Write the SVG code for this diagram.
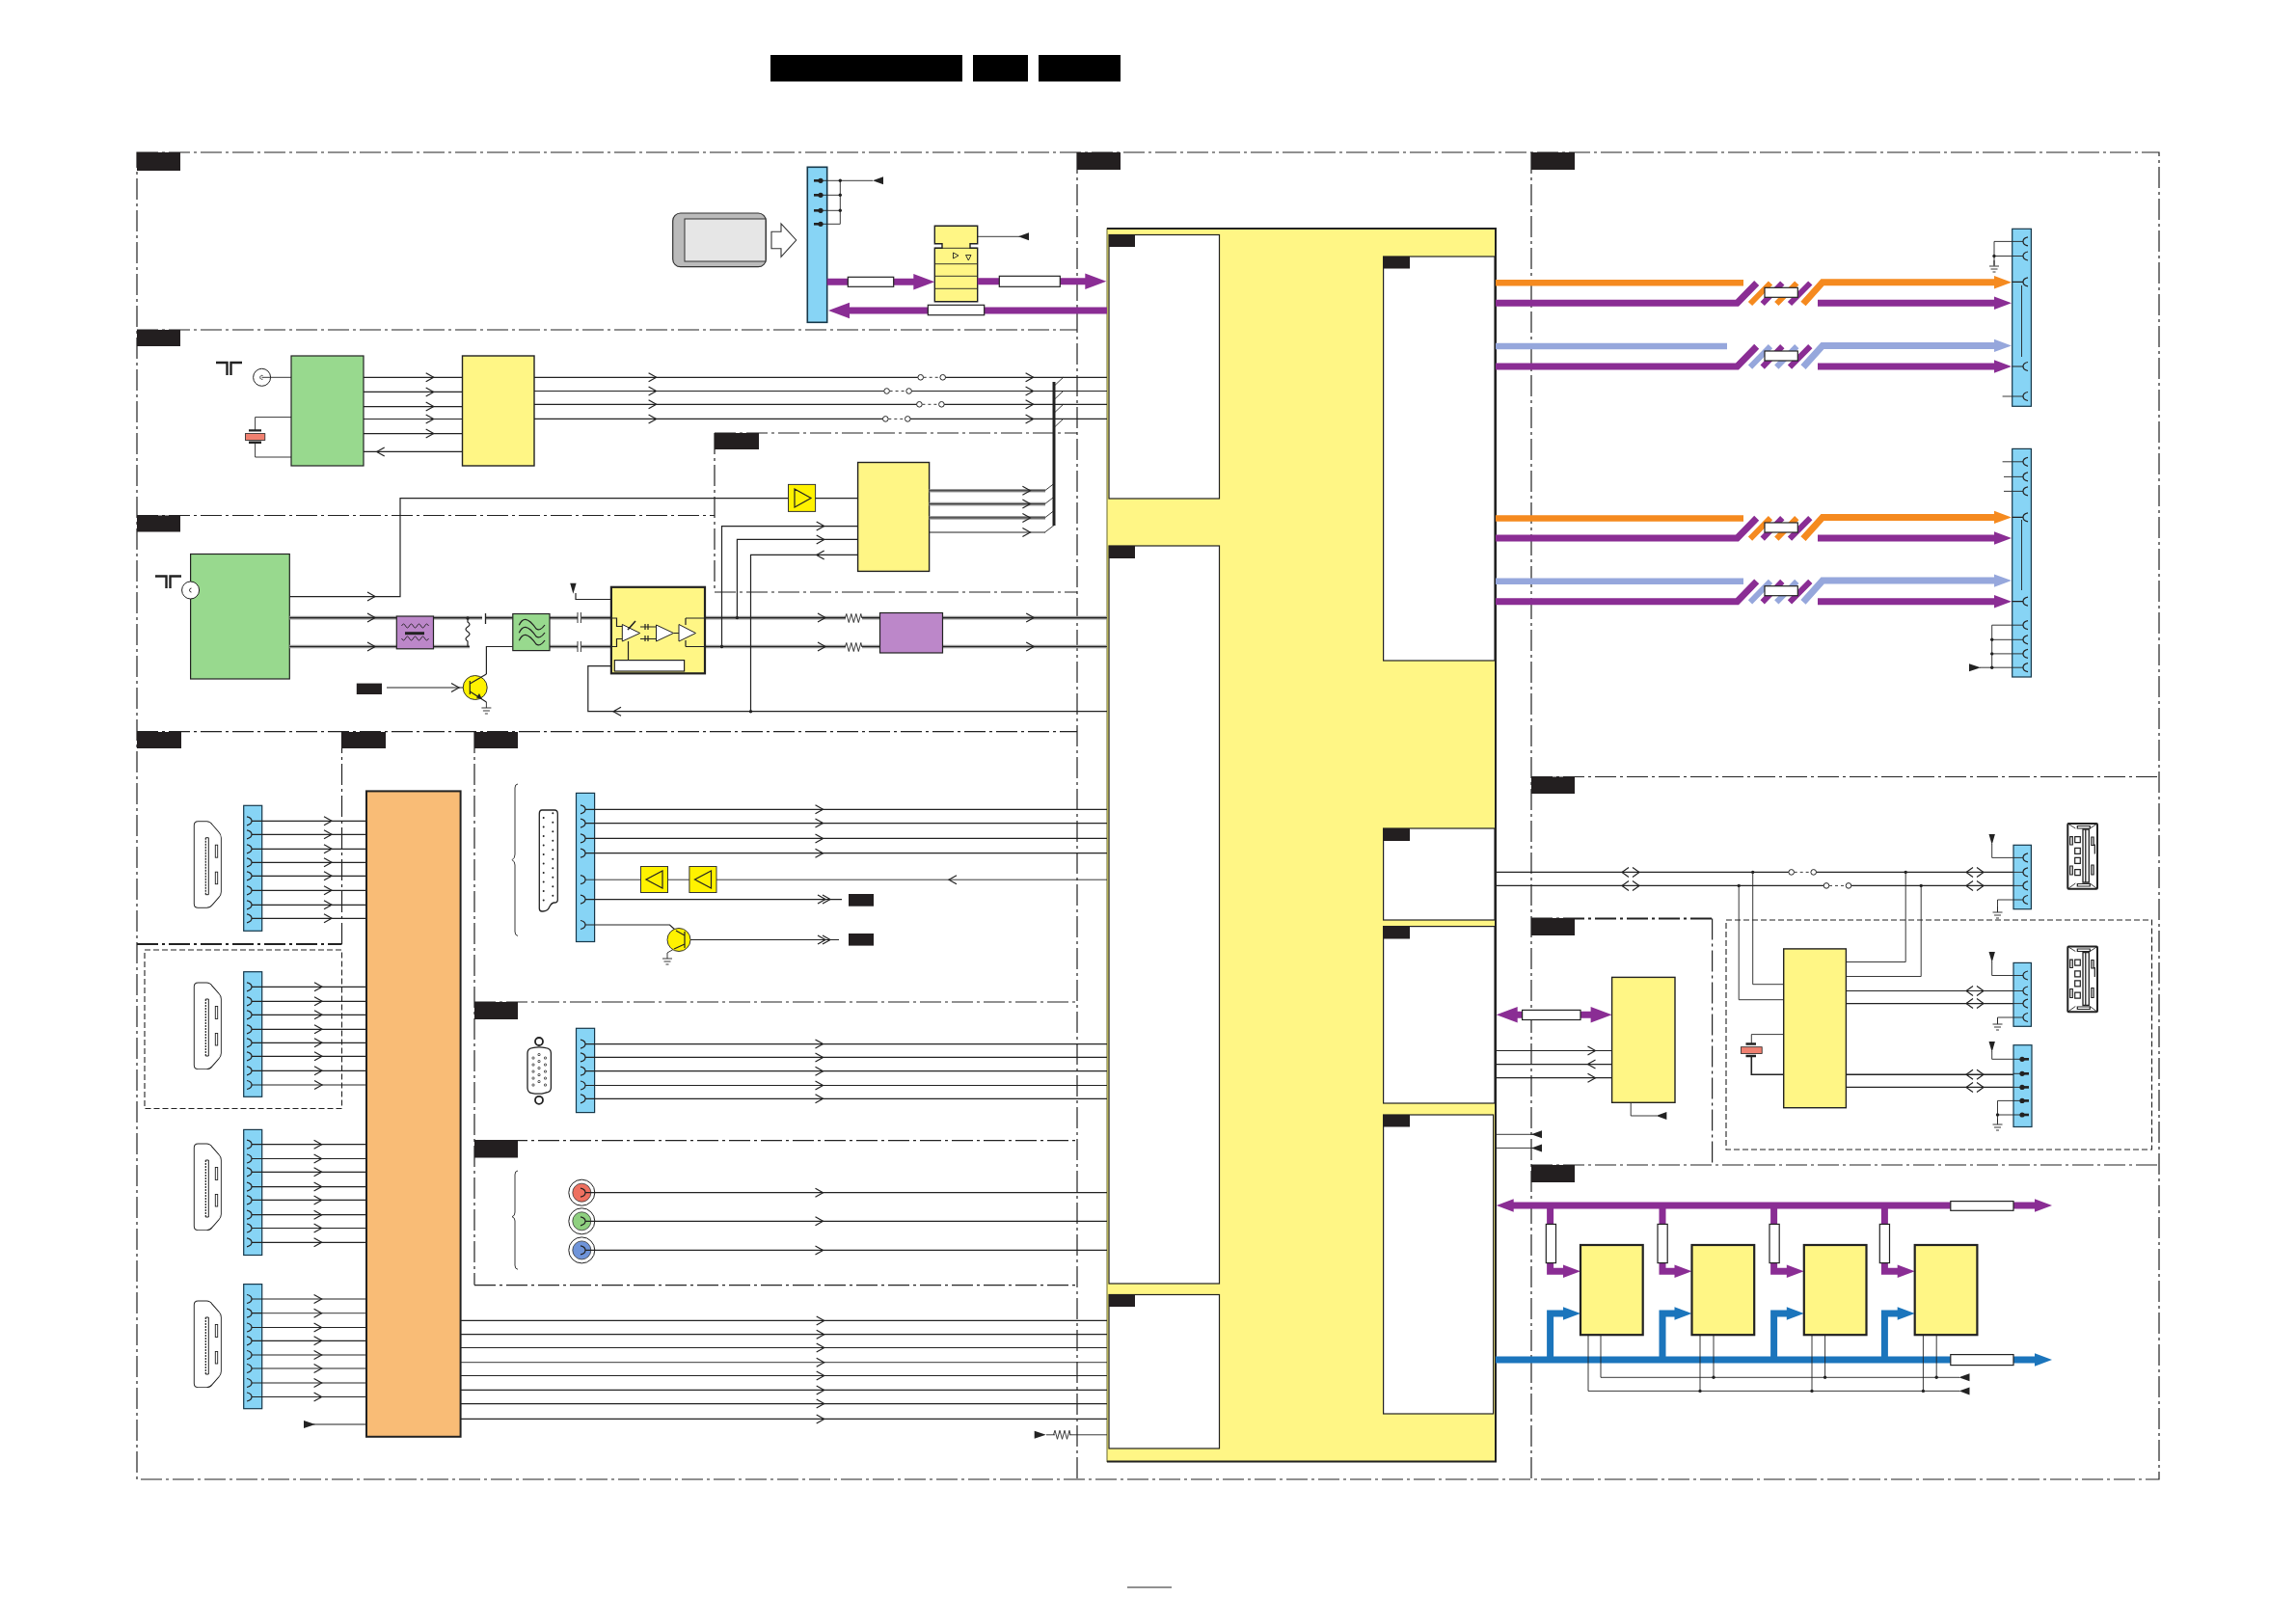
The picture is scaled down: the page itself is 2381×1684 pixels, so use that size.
<svg xmlns="http://www.w3.org/2000/svg" width="2381" height="1684" viewBox="0 0 2381 1684">
<style>
.f{fill:none;stroke:#222;stroke-width:1.2;stroke-dasharray:22 4 3 4}
.d{fill:none;stroke:#222;stroke-width:1.1;stroke-dasharray:6 3}
.l{fill:none;stroke:#222;stroke-width:1.2}
.t{fill:none;stroke:#222;stroke-width:.9}
.g{fill:none;stroke:#9a9a9a;stroke-width:3.6}
.m{fill:none;stroke:#222;stroke-width:1.2}
.k{fill:#231f20}
.y{fill:#fff685;stroke:#222;stroke-width:1.4}
.yb{fill:#fff685;stroke:#222;stroke-width:2.2}
.b{fill:#87d4f5;stroke:#17384a;stroke-width:1.2}
.w{fill:#fff;stroke:#222;stroke-width:1.2}
.s{fill:#fff;stroke:#222;stroke-width:1}
.p{fill:none;stroke:#8a2d94;stroke-width:7}
.u{fill:none;stroke:#1b75bc;stroke-width:7}
.a{fill:#fff200;stroke:#333;stroke-width:1}
.v{fill:#bc87c9;stroke:#222;stroke-width:1.2}
.e{fill:#98d98e;stroke:#222;stroke-width:1.2}
.c{fill:#f08070;stroke:#222;stroke-width:.8}
.n{fill:#222}
</style>
<defs>
<path id="cr" class="m" d="M-4 -4.5L4 0L-4 4.5"/>
<path id="cl" class="m" d="M4 -4.5L-4 0L4 4.5"/>
<path id="dr" class="m" d="M-7 -4.5L1 0L-7 4.5M-2 -4.5L6 0L-2 4.5"/>
<path id="dm" class="m" d="M-2 -5L-9 0L-2 5M2 -5L9 0L2 5"/>
<path id="pl" class="m" d="M-5 -4.5Q0 -3.5 0 0Q0 3.5 -5 4.5"/>
<path id="pr" class="m" d="M5 -4.5Q0 -3.5 0 0Q0 3.5 5 4.5"/>
<g id="ps"><path d="M-7 0H0" stroke="#222" stroke-width="2.6"/><circle r="2.6" class="n"/></g>
<circle id="dot" r="1.7" class="n"/>
<path id="tl" class="n" d="M0 0L11 -4V4Z"/>
<path id="tr" class="n" d="M0 -4L12 0L0 4Z"/>
<path id="td" class="n" d="M-3.2 0H3.2L0 11Z"/>
<path id="gnd" class="t" d="M0 0V6M-5 6H5M-3.5 9H3.5M-1.5 12H1.5"/>
<path id="hs" d="M0 0L-18 -6.7V6.7Z"/>
<path id="hb" d="M0 0L-22 -8.3V8.3Z"/>
<path id="rs" class="t" d="M-9 0l1.5 -4.5l2.5 9l2.5 -9l2.500 9l2.500 -9l2.500 9l2.500 -9l1 4.500"/>
<g id="sw"><rect x="0" y="-2.500" width="23" height="5" fill="#fff"/><path class="t" stroke-dasharray="3 3" d="M3 0H21"/><circle r="2.800" class="s"/><circle cx="23" r="2.800" class="s"/></g>
<path id="hdo" d="M3 0H12Q15 0 17 3L24 11Q26 13 26 16V72Q26 75 24 77L17 85Q15 87.600 12 87.600H3Q0 87.600 0 84.600V3Q0 0 3 0Z"/>
<g id="hd"><use href="#hdo" fill="#fff" stroke="#222" stroke-width="3"/><use href="#hdo" fill="#fff" stroke="#fff" stroke-width="1.100"/><path d="M11 16H14V75H11" fill="#fff" stroke="#222"/><path d="M11 16V75" stroke="#222" stroke-width="1.200" stroke-dasharray="2 1"/><rect x="21" y="23.500" width="2.400" height="13" class="t"/><rect x="21" y="51.500" width="2.400" height="12.500" class="t"/></g>
<g id="usb"><rect x="0" y="0" width="30.700" height="67.700" rx="1" fill="#fff" stroke="#222" stroke-width="2"/><path d="M15.700 6H22V61H15.700ZM18.500 6V61" fill="#fff" stroke="#222" stroke-width="1.300"/><path class="m" d="M7.400 13.700h5.600v6h-5.600zM7.400 25.300h5.600v6h-5.600zM7.400 35.300h5.600v6h-5.600zM7.400 47.700h5.600v6h-5.600zM2.400 13.700h2.600v8.300h-2.600zM2.400 44h2.600v9h-2.600zM24.500 14h2.300v8.500h-2.300zM24.500 43h2.300v10h-2.300zM28 21.500v10M10 2.500h13v2.500h-13zM10 62.500h13v2.500h-13z"/><path class="t" d="M0 0L8 5M30.700 0L23 5M0 67.700L8 62M30.700 67.700L23 62"/></g>
<g id="pair">
<path fill="none" stroke="currentColor" stroke-width="6" d="M1815 315L1836 293.500M1842.300 315L1863.300 293.500"/>
<path fill="none" stroke="#8a2d94" stroke-width="6" d="M1827.700 315L1848.300 293.500M1856 315L1877.300 293.500"/>
<path fill="none" stroke="#8a2d94" stroke-width="7" d="M1551 314.300H1801.500L1821.700 293.500M1885 314.300H2069"/>
<use href="#hs" x="2086" y="314.300" fill="#8a2d94"/>
<path fill="none" stroke="currentColor" stroke-width="7" d="M1870 315L1890 292.700H2069"/>
<use href="#hs" x="2086" y="292.700" fill="currentColor"/>
<rect x="1830" y="298.300" width="34.300" height="10" class="w"/>
</g>
<rect id="icb" width="64.700" height="93.200" class="yb"/>
</defs>

<g id="frames">
<path class="f" d="M142 158H2239V1534H142ZM1117 158V1534M1588 158V1534M142 342H1117M142 534.500H741M741 449V614M741 449H1117M741 614H1117M142 758.600H1117M354.500 759V979M492 759V1332.600M492 1039H1117M492 1182.700H1117M492 1332.600H1117M1588 805.500H2239M1775.600 952.500V1208M1588 1208H2239"/>
<path class="f" style="stroke-width:2" d="M142 979H354.500M1588 952.500H1776"/>
<path class="d" d="M150 985H354.500V1149.500H150ZM1790 954H2231.500V1192H1790Z"/>
</g>

<g id="header">
<rect x="799" y="57" width="199" height="27.500" fill="#000"/><rect x="1009" y="57" width="57" height="27.500" fill="#000"/><rect x="1077" y="57" width="85" height="27.500" fill="#000"/>
<path d="M1169 1646H1215" stroke="#222" stroke-width="1"/>
</g>

<g id="section-labels" class="k">
<rect x="142" y="158" width="45" height="19"/><rect x="1117" y="158" width="45" height="18"/><rect x="1588" y="158" width="45" height="18"/>
<rect x="142" y="342" width="45" height="17"/><rect x="142" y="534.500" width="45" height="17"/><rect x="741" y="449" width="46" height="17"/>
<rect x="142" y="759" width="46" height="17"/><rect x="354" y="759" width="46" height="17"/><rect x="492" y="759" width="45" height="17"/>
<rect x="492" y="1039" width="45" height="18"/><rect x="492" y="1182" width="45" height="18.500"/>
<rect x="1588" y="805.500" width="45" height="17.500"/><rect x="1588" y="952" width="45" height="18"/><rect x="1588" y="1208" width="45" height="18"/>
</g>

<g id="main-soc">
<rect x="1148" y="237" width="403" height="1278.600" fill="#fff685" stroke="#6b6a30" stroke-width="1"/>
<path d="M1148 237H1551V1515.600H1148" fill="none" stroke="#222" stroke-width="2"/>
<rect x="1150" y="243.500" width="114.500" height="273.500" class="w"/><rect x="1150" y="566" width="114.500" height="765" class="w"/><rect x="1150" y="1342.500" width="114.500" height="159.500" class="w"/>
<rect x="1434.600" y="266" width="115.400" height="419" class="w"/><rect x="1434.600" y="859" width="115.400" height="95" class="w"/><rect x="1434.600" y="960.600" width="115.400" height="183.400" class="w"/><rect x="1434.600" y="1156" width="114" height="310" class="w"/>
<g class="k"><rect x="1150" y="243.500" width="27" height="12.500"/><rect x="1150" y="566" width="27" height="13"/><rect x="1150" y="1342.500" width="27" height="12.500"/><rect x="1435" y="266" width="27" height="12.500"/><rect x="1435" y="859" width="27" height="13"/><rect x="1435" y="961" width="27" height="12.500"/><rect x="1435" y="1156" width="27" height="12.500"/></g>
</g>

<g id="cicam"><rect x="697.700" y="221" width="96.600" height="55.700" rx="8" fill="#bbb" stroke="#333" stroke-width="1.200"/><rect x="710" y="227" width="84" height="44" fill="#e6e6e6" stroke="#333" stroke-width="1"/>
<path d="M800 240.300H810V232L825.700 249L810 266.300V257.700H800Z" fill="#fff" stroke="#333" stroke-width="1.100"/></g>
<g id="conn-ci"><rect x="837.300" y="173.300" width="20.400" height="161" class="b" style="stroke-width:1.600"/><use href="#ps" x="851" y="187.300"/><use href="#ps" x="851" y="202.300"/><use href="#ps" x="851" y="218.300"/><use href="#ps" x="851" y="232.300"/></g>
<g id="ci-buffer"><path class="y" d="M969.300 234.300H1013.700V252.700H1006V257.300H1013.700V312.700H969.300V257.300H977V252.700H969.300Z"/><path class="t" d="M969.300 257.300H1013.700M969.300 273.700H1013.700M969.300 286.300H1013.700M969.300 299.300H1013.700M988.500 262V268L994 265ZM1001.500 264.500H1007L1004.300 270Z"/></g>

<g id="tuner1"><rect x="302" y="369" width="75" height="114" class="e"/><circle cx="271.600" cy="391.300" r="9" class="s"/><path class="t" d="M272.500 389.500A2 2 0 1 0 272.500 393.200M271.600 391.300H302"/><path d="M224 376H235.500V389M251 376H239.500V389" fill="none" stroke="#222" stroke-width="2.400"/><path class="t" d="M302 432.600H264.600V446.400M302 474H264.600V458.800"/><path d="M258 446.400H271M258 458.800H271" stroke="#222" stroke-width="2.400"/><rect x="254.400" y="449.600" width="20.400" height="6.900" class="c"/></g>
<g id="demod1"><rect x="479.500" y="369" width="74.500" height="114" class="y"/></g>
<g id="tuner2"><rect x="197.600" y="574.500" width="102.700" height="129.500" class="e"/><circle cx="197.600" cy="612" r="9" class="s"/><path class="t" d="M198.500 610A2 2 0 1 0 198.500 614"/><path d="M161 597.500H172.500V610M188 597.500H176.500V610" fill="none" stroke="#222" stroke-width="2.400"/></g>
<g id="demod2"><rect x="889.600" y="479.500" width="74" height="112.900" class="y"/></g>
<g id="buf-if"><rect x="817.500" y="502.400" width="28.100" height="28" class="a"/><path class="m" d="M824 507V526L841 516.500Z"/></g>

<g id="connectors">
<path class="l" d="M377 391.300H479.500M377 406.400H479.500M377 421.600H479.500M377 434.500H479.500M377 449.600H479.500M377 468.400H479.500M554 391.300H1148M554 405.500H1148M554 419.300H1148M554 434.400H1148"/>
<path class="t" d="M1093 400.300L1102.600 391.300M1093 414.500L1102.600 405.500M1093 428.300L1102.600 419.300M1093 443.400L1102.600 434.400M1083.500 508.800L1093 501.500M1083.500 522.600L1093 515.300M1083.500 536.900L1093 529.600M1083.500 552L1093 544.700"/>
<path d="M1093 396V545" stroke="#222" stroke-width="3"/>
<use href="#cr" x="445.700" y="391.300"/><use href="#cr" x="445.700" y="406.400"/><use href="#cr" x="445.700" y="421.600"/><use href="#cr" x="445.700" y="434.500"/><use href="#cr" x="445.700" y="449.600"/><use href="#cl" x="394.700" y="468.400"/>
<use href="#cr" x="676.600" y="391.300"/><use href="#cr" x="676.600" y="405.500"/><use href="#cr" x="676.600" y="419.300"/><use href="#cr" x="676.600" y="434.400"/>
<use href="#cr" x="1067.600" y="391.300"/><use href="#cr" x="1067.600" y="405.500"/><use href="#cr" x="1067.600" y="419.300"/><use href="#cr" x="1067.600" y="434.400"/>
<use href="#sw" x="954.700" y="391.300"/><use href="#sw" x="919.600" y="405.500"/><use href="#sw" x="953.400" y="419.300"/><use href="#sw" x="918.300" y="434.400"/>
<path class="g" d="M963.600 508.800H1084M963.600 522.600H1084M963.600 536.900H1084"/>
<path class="t" d="M963.600 508.800H1084M963.600 522.600H1084M963.600 536.900H1084"/><path class="l" d="M963.600 552H1084"/>
<use href="#cr" x="1064.400" y="508.800"/><use href="#cr" x="1064.400" y="522.600"/><use href="#cr" x="1064.400" y="536.900"/><use href="#cr" x="1064.400" y="552"/>
<path class="l" d="M300.300 618.600H415V516.700H817.500M845.600 516.700H889.600"/><use href="#cr" x="385" y="618.600"/>
<path class="g" d="M300.300 640.600H411.300M300.300 670.500H411.300M449.500 640.600H500M504 640.600H531.800M449.500 670.500H487M570 640.600H599M603 640.600H634M570 670.500H599M603 670.500H634M731 640.600H877M731 670.500H877M894 640.600H912.500M894 670.500H912.500M977.500 640.600H1148M977.500 670.500H1148"/>
<path class="l" d="M300.300 640.600H411.300M300.300 670.500H411.300M449.500 640.600H500M504 640.600H531.800M449.500 670.500H487M570 640.600H599M603 640.600H634M570 670.500H599M603 670.500H634M731 640.600H877M731 670.500H877M894 640.600H912.500M894 670.500H912.500M977.500 640.600H1148M977.500 670.500H1148"/>
<use href="#cr" x="385" y="640.600"/><use href="#cr" x="385" y="670.500"/><use href="#cr" x="852" y="640.600"/><use href="#cr" x="852" y="670.500"/><use href="#cr" x="1068.200" y="640.600"/><use href="#cr" x="1068.200" y="670.500"/>
<use href="#rs" x="885.300" y="641"/><use href="#rs" x="885.300" y="671"/>
<path class="t" d="M599 635V646M602.400 635V646M599 665V676M602.400 665V676"/>
<path d="M503.500 636V647" stroke="#222" stroke-width="1.300"/>
<path class="l" d="M485 641V645q4 2.500 0 5q-4 2.500 0 5q4 2.500 0 5q-4 2.500 0 5V670"/><use href="#dot" x="485" y="641"/>
<path class="l" d="M531.800 670.500H504.400V699M401 713H487.300"/><use href="#cr" x="472" y="713"/>
<use href="#gnd" x="504.400" y="728"/>
<path class="l" d="M597 615V621.500H634M1148 737.700H609.800V690.600H637.300M778.500 737.700V575.400H889.600M748.500 670.500V545.600H889.600M764.400 640.600V559.400H889.600"/>
<use href="#td" x="594.400" y="604.800"/>
<use href="#cl" x="640" y="737.700"/><use href="#cr" x="850.700" y="545.600"/><use href="#cr" x="850.700" y="559.400"/><use href="#cl" x="850.700" y="575.400"/>
<use href="#dot" x="778.500" y="737.700"/><use href="#dot" x="748.500" y="670.500"/><use href="#dot" x="764.400" y="640.600"/>
<path class="t" d="M851 187.300H905M851 202.300H871.300M851 218.300H871.300M851 232.300H871.300V187.300M1013.700 245.300H1058"/>
<use href="#dot" x="871.300" y="187.300"/><use href="#dot" x="871.300" y="202.300"/><use href="#dot" x="871.300" y="218.300"/><use href="#tl" x="905" y="187.300"/><use href="#tl" x="1056" y="245.300"/>
<path class="p" d="M857.700 292.300H948M1013.700 291.700H1126M1148 322H880"/>
<use href="#hb" x="969.300" y="292.300" fill="#8a2d94"/><use href="#hb" x="1147.300" y="291.700" fill="#8a2d94"/><use href="#hb" transform="translate(859 322) rotate(180)" fill="#8a2d94"/>
<path class="l" d="M261 851.300H380M261 865.300H380M261 880.300H380M261 894.300H380M261 908.300H380M261 923.300H380M261 938.300H380M261 952.300H380M261 1023.300H380M261 1038.300H380M261 1052.300H380M261 1067.300H380M261 1081.300H380M261 1095.300H380M261 1110.300H380M261 1125H380M261 1186.700H380M261 1201.500H380M261 1215.300H380M261 1230.600H380M261 1244.400H380M261 1259.700H380M261 1273.500H380M261 1288.300H380M261 1347H380M261 1376.500H380M261 1390.300H380M261 1405H380M261 1419H380M261 1434H380M261 1448.500H380M325 1477H380"/>
<path class="t" d="M261 1361.700H380"/>
<use href="#tr" x="315" y="1477"/>
<use href="#cr" x="340" y="851.300"/><use href="#cr" x="340" y="865.300"/><use href="#cr" x="340" y="880.300"/><use href="#cr" x="340" y="894.300"/><use href="#cr" x="340" y="908.300"/><use href="#cr" x="340" y="923.300"/><use href="#cr" x="340" y="938.300"/><use href="#cr" x="340" y="952.300"/>
<use href="#cr" x="330" y="1023.300"/><use href="#cr" x="330" y="1038.300"/><use href="#cr" x="330" y="1052.300"/><use href="#cr" x="330" y="1067.300"/><use href="#cr" x="330" y="1081.300"/><use href="#cr" x="330" y="1095.300"/><use href="#cr" x="330" y="1110.300"/><use href="#cr" x="330" y="1125"/>
<use href="#cr" x="329.600" y="1186.700"/><use href="#cr" x="329.600" y="1201.500"/><use href="#cr" x="329.600" y="1215.300"/><use href="#cr" x="329.600" y="1230.600"/><use href="#cr" x="329.600" y="1244.400"/><use href="#cr" x="329.600" y="1259.700"/><use href="#cr" x="329.600" y="1273.500"/><use href="#cr" x="329.600" y="1288.300"/>
<use href="#cr" x="329.600" y="1347"/><use href="#cr" x="329.600" y="1361.700"/><use href="#cr" x="329.600" y="1376.500"/><use href="#cr" x="329.600" y="1390.300"/><use href="#cr" x="329.600" y="1405"/><use href="#cr" x="329.600" y="1419"/><use href="#cr" x="329.600" y="1434"/><use href="#cr" x="329.600" y="1448.500"/>
<path class="l" d="M477.600 1369.400H1148M477.600 1383.700H1148M477.600 1397.500H1148M477.600 1426.500H1148M477.600 1441.400H1148M477.600 1455.600H1148M477.600 1471.400H1148"/><path class="t" d="M477.600 1412.700H1148M1085 1487.800H1094M1109 1487.800H1148"/>
<use href="#cr" x="850.700" y="1369.400"/><use href="#cr" x="850.700" y="1383.700"/><use href="#cr" x="850.700" y="1397.500"/><use href="#cr" x="850.700" y="1412.700"/><use href="#cr" x="850.700" y="1426.500"/><use href="#cr" x="850.700" y="1441.400"/><use href="#cr" x="850.700" y="1455.600"/><use href="#cr" x="850.700" y="1471.400"/>
<use href="#tr" x="1072.700" y="1487.800"/><use href="#rs" x="1101.500" y="1487.800"/>
<path class="l" d="M607 839.300H1148M607 853.600H1148M607 869.400H1148M607 884.700H1148M607 932.600H873M607 1082.600H1148M607 1096.400H1148M607 1110.700H1148M607 1125.500H1148M607 1139.300H1148M607 1236.700H1148M607 1266.300H1148M607 1296.400H1148M716 974.500H870"/>
<path class="t" d="M607 912.200H664.500M692.500 912.200H714.900M743 912.200H1148"/>
<path class="l" d="M607 959H694.500L701 965"/>
<use href="#cr" x="849.500" y="839.300"/><use href="#cr" x="849.500" y="853.600"/><use href="#cr" x="849.500" y="869.400"/><use href="#cr" x="849.500" y="884.700"/><use href="#cl" x="988" y="912.200"/><use href="#dr" x="855" y="932.600"/><use href="#dr" x="855" y="974.500"/>
<use href="#cr" x="849.500" y="1082.600"/><use href="#cr" x="849.500" y="1096.400"/><use href="#cr" x="849.500" y="1110.700"/><use href="#cr" x="849.500" y="1125.500"/><use href="#cr" x="849.500" y="1139.300"/>
<use href="#cr" x="849.500" y="1236.700"/><use href="#cr" x="849.500" y="1266.300"/><use href="#cr" x="849.500" y="1296.400"/>
<path class="t" d="M699 984L692 988"/><use href="#gnd" x="692" y="988"/>
<path fill="none" stroke="#f58a1f" stroke-width="6.500" d="M1551 293.200H1808M1551 537.600H1808"/>
<path fill="none" stroke="#96a7dc" stroke-width="6.500" d="M1551 358.900H1791M1551 602.700H1808"/>
<use href="#pair" color="#f58a1f"/><use href="#pair" y="65.700" color="#96a7dc"/><use href="#pair" y="243.700" color="#f58a1f"/><use href="#pair" y="309.400" color="#96a7dc"/>
<path class="t" d="M2098 250.400H2068V275M2068 265.500H2098M2076.600 411H2098M2076.600 478.800H2098M2078 494.400H2098M2078 509.400H2098M2098 648.200H2065.700V692.200H2098M2065.700 663.300H2098M2065.700 677.900H2098M2053 692.200H2066"/>
<use href="#dot" x="2068" y="265.500"/><use href="#gnd" x="2068" y="270"/><use href="#dot" x="2065.700" y="663.300"/><use href="#dot" x="2065.700" y="677.900"/><use href="#dot" x="2065.700" y="692.200"/><use href="#tr" x="2042" y="692.200"/>
<path class="l" d="M1551 904.400H2098M1551 918.400H2098M1914.400 1027.500H2098M1914.400 1040.600H2098M1914.400 1127.400H2098"/><path d="M1849.700 1114.300H1816.300V1095M1914.400 1114.300H2098" stroke="#222" stroke-width="1.600" fill="none"/>
<path class="t" d="M1817.700 904.400V1020.700H1849.700M1803.200 918.400V1036.700H1849.700M1976.200 904.400V997.500H1914.400M1992.200 918.400V1012.500H1914.400M1849.700 1072.600H1816.300V1082"/>
<use href="#dot" x="1817.700" y="904.400"/><use href="#dot" x="1803.200" y="918.400"/><use href="#dot" x="1976.200" y="904.400"/><use href="#dot" x="1992.200" y="918.400"/>
<use href="#dm" x="1691" y="904.400"/><use href="#dm" x="1691" y="918.400"/><use href="#dm" x="2048" y="904.400"/><use href="#dm" x="2048" y="918.400"/><use href="#dm" x="2048" y="1027.500"/><use href="#dm" x="2048" y="1040.600"/><use href="#dm" x="2048" y="1114.300"/><use href="#dm" x="2048" y="1127.400"/>
<use href="#sw" x="1857.700" y="904.400"/><use href="#sw" x="1894" y="918.400"/>
<path class="t" d="M2065.700 875V889.400H2098M2065.700 997V1011.500H2098M2065.700 1090V1098.300H2098M2098 933H2071.500V945M2098 1055H2071.500V1061M2098 1141.400H2071.500V1156H2098M2071.500 1156V1164"/>
<use href="#td" x="2065.700" y="865"/><use href="#td" x="2065.700" y="987"/><use href="#td" x="2065.700" y="1080"/>
<use href="#gnd" x="2071.500" y="940"/><use href="#gnd" x="2071.500" y="1056"/><use href="#gnd" x="2071.500" y="1160"/><use href="#dot" x="2071.500" y="1156"/>
<path class="p" d="M1570 1052.200H1650"/><use href="#hb" x="1671.600" y="1052.200" fill="#8a2d94"/><use href="#hb" transform="translate(1551.700 1052.200) rotate(180)" fill="#8a2d94"/>
<path class="l" d="M1551 1089.500H1671.600M1551 1103.600H1671.600M1551 1117.700H1671.600"/><use href="#cr" x="1650.500" y="1089.500"/><use href="#cl" x="1650.500" y="1103.600"/><use href="#cr" x="1650.500" y="1117.700"/>
<path class="t" d="M1691.200 1143.300V1157H1718M1551 1176.300H1590M1551 1190.400H1590"/><use href="#tl" x="1717.400" y="1157"/><use href="#tl" x="1588" y="1176.300"/><use href="#tl" x="1588" y="1190.400"/>
<path class="p" d="M1565 1250H2112M1607.600 1250V1318.300H1622M1724 1250V1318.300H1738M1839.600 1250V1318.300H1853M1954.400 1250V1318.300H1968"/>
<use href="#hs" transform="translate(1551.700 1250) rotate(180)" fill="#8a2d94"/><use href="#hs" x="2128" y="1250" fill="#8a2d94"/>
<use href="#hs" x="1639" y="1318.300" fill="#8a2d94"/><use href="#hs" x="1754.500" y="1318.300" fill="#8a2d94"/><use href="#hs" x="1870.800" y="1318.300" fill="#8a2d94"/><use href="#hs" x="1985.700" y="1318.300" fill="#8a2d94"/>
<path class="u" d="M1551 1410H2112M1607.600 1410V1362H1622M1724 1410V1362H1738M1839.600 1410V1362H1853M1954.400 1410V1362H1968"/>
<use href="#hs" x="2128" y="1410" fill="#1b75bc"/><use href="#hs" x="1639" y="1362" fill="#1b75bc"/><use href="#hs" x="1754.500" y="1362" fill="#1b75bc"/><use href="#hs" x="1870.800" y="1362" fill="#1b75bc"/><use href="#hs" x="1985.700" y="1362" fill="#1b75bc"/>
<path class="t" d="M1660 1384V1428.300H2032M1647 1384V1442.400H2032M1777 1384V1428.300M1763 1384V1442.400M1892.600 1384V1428.300M1879 1384V1442.400M2008.200 1384V1428.300M1994.400 1384V1442.400"/>
<use href="#dot" x="1777" y="1428.300"/><use href="#dot" x="1892.600" y="1428.300"/><use href="#dot" x="2008.200" y="1428.300"/><use href="#dot" x="1763" y="1442.400"/><use href="#dot" x="1879" y="1442.400"/><use href="#dot" x="1994.400" y="1442.400"/>
<use href="#tl" x="2031.500" y="1428.300"/><use href="#tl" x="2031.500" y="1442.400"/>
</g>

<g id="bus-tags">
<rect x="879.300" y="287.300" width="47.400" height="10" class="w"/><rect x="1036.300" y="286.300" width="63" height="11" class="w"/><rect x="962.300" y="316.300" width="58.400" height="10.400" class="w"/>
<rect x="1578.600" y="1047.400" width="60.400" height="10.100" class="w"/><rect x="2022.800" y="1245.600" width="65.200" height="9.700" class="w"/><rect x="2022.800" y="1404.600" width="65.200" height="11" class="w"/>
<rect x="1603.300" y="1269.400" width="10.200" height="40.200" class="w"/><rect x="1719" y="1269.400" width="10.200" height="40.200" class="w"/><rect x="1835" y="1269.400" width="10.200" height="40.200" class="w"/><rect x="1949.300" y="1269.400" width="10.200" height="40.200" class="w"/>
</g>

<g id="transformer"><rect x="411.300" y="639" width="38.200" height="33.800" class="v"/><path class="t" d="M416.500 649q2 -4 4 0t4 0t4 0t4 0t4 0t4 0t4 0M416.500 662q2 4 4 0t4 0t4 0t4 0t4 0t4 0t4 0"/><path d="M420 656.700H440" stroke="#222" stroke-width="3"/></g>
<g id="saw-filter"><rect x="531.800" y="636.500" width="38.200" height="38.100" class="e"/><path class="m" d="M538.300 648.300Q541 642 545 642.300Q550 643 556 652Q560 655 565 648M538.300 656.300Q541 650 545 650.300Q550 651 556 660Q560 663 565 656M538.300 664.300Q541 658 545 658.300Q550 659 556 668Q560 671 565 664"/></g>
<g id="if-amp"><rect x="633.900" y="608.800" width="97.100" height="89.500" class="yb"/><rect x="637.300" y="684.600" width="72.300" height="11.400" class="w"/>
<path class="m" d="M634 641H639.500V649.500H645.300M634 670.500H639.500V662.500H645.300M664 650H680M664 662.500H680M669 647V653M669 659V665M672 647V653M672 659V665M698.500 656.500H704M711 641H731M711 670.500H731M711 641V648M711 670.500V664M651.500 665V684.600"/>
<path d="M645.300 647.500L663.700 656.500L645.300 665Z" class="s"/><path d="M680.500 648L698.500 656.500L680.500 665Z" class="s"/><path d="M704 647.500L721.500 656.500L704 665Z" class="s"/>
<path d="M651 653L659 644" stroke="#222" stroke-width="1.600"/></g>
<g id="attenuator"><rect x="912.500" y="635.500" width="65" height="41.500" class="v"/></g>
<g id="transistor-a"><circle cx="492.700" cy="713" r="12.500" class="a"/><path class="l" d="M487.300 706V720M487.300 709L504.400 699M487.300 717L504.400 728"/><path class="n" d="M500 725L494 723.500L497 719Z"/></g>
<g id="transistor-b"><circle cx="704" cy="974.500" r="12" class="a"/><path class="l" d="M710 966V983M710 970L701 965M710 979L699 984"/></g>
<g id="ci-hdmi"><rect x="380" y="820.400" width="97.600" height="669.400" fill="#f9bc76" stroke="#222" stroke-width="2"/></g>

<g id="hdmi-conn">
<use href="#hd" x="202.300" y="852.700"/><use href="#hd" x="202.300" y="1020"/><use href="#hd" x="202.300" y="1187"/><use href="#hd" x="202.300" y="1350"/>
<rect x="252.700" y="835.300" width="19" height="130" class="b"/><rect x="252.700" y="1007.700" width="19" height="129.600" class="b"/><rect x="252.700" y="1171.400" width="19" height="130.100" class="b"/><rect x="252.700" y="1331.600" width="19" height="129.100" class="b"/>
<path class="l" d="M261 851.300H272M261 865.300H272M261 880.300H272M261 894.300H272M261 908.300H272M261 923.300H272M261 938.300H272M261 952.300H272M261 1023.300H272M261 1038.300H272M261 1052.300H272M261 1067.300H272M261 1081.300H272M261 1095.300H272M261 1110.300H272M261 1125H272M261 1186.700H272M261 1201.500H272M261 1215.300H272M261 1230.600H272M261 1244.400H272M261 1259.700H272M261 1273.500H272M261 1288.300H272M261 1347H272M261 1361.700H272M261 1376.500H272M261 1390.300H272M261 1405H272M261 1419H272M261 1434H272M261 1448.500H272"/>
<use href="#pl" x="261" y="851.300"/><use href="#pl" x="261" y="865.300"/><use href="#pl" x="261" y="880.300"/><use href="#pl" x="261" y="894.300"/><use href="#pl" x="261" y="908.300"/><use href="#pl" x="261" y="923.300"/><use href="#pl" x="261" y="938.300"/><use href="#pl" x="261" y="952.300"/>
<use href="#pl" x="261" y="1023.300"/><use href="#pl" x="261" y="1038.300"/><use href="#pl" x="261" y="1052.300"/><use href="#pl" x="261" y="1067.300"/><use href="#pl" x="261" y="1081.300"/><use href="#pl" x="261" y="1095.300"/><use href="#pl" x="261" y="1110.300"/><use href="#pl" x="261" y="1125"/>
<use href="#pl" x="261" y="1186.700"/><use href="#pl" x="261" y="1201.500"/><use href="#pl" x="261" y="1215.300"/><use href="#pl" x="261" y="1230.600"/><use href="#pl" x="261" y="1244.400"/><use href="#pl" x="261" y="1259.700"/><use href="#pl" x="261" y="1273.500"/><use href="#pl" x="261" y="1288.300"/>
<use href="#pl" x="261" y="1347"/><use href="#pl" x="261" y="1361.700"/><use href="#pl" x="261" y="1376.500"/><use href="#pl" x="261" y="1390.300"/><use href="#pl" x="261" y="1405"/><use href="#pl" x="261" y="1419"/><use href="#pl" x="261" y="1434"/><use href="#pl" x="261" y="1448.500"/>
</g>

<g id="scart">
<path class="t" d="M537 813Q534 813 534 817V886Q534 890 531 891.700Q534 893 534 897V966Q534 970 537 970.500"/>
<path d="M562 840H575Q578.300 840 578.300 844V933Q578.300 936 575 936Q572 936 570 940Q568 945 563 945H562Q559.300 945 559.300 942V844Q559.300 840 562 840Z" fill="#fff" stroke="#222" stroke-width="1.300"/>
<path d="M563.700 848V936" fill="none" stroke="#222" stroke-width="2" stroke-linecap="round" stroke-dasharray="0 9.500"/><path d="M573.300 843.300V931" fill="none" stroke="#222" stroke-width="2" stroke-linecap="round" stroke-dasharray="0 9.500"/>
<rect x="597.500" y="822.400" width="19.100" height="154.100" class="b"/>
<path class="l" d="M607 839.300H617M607 853.600H617M607 869.400H617M607 884.700H617M607 932.600H617M607 959H617"/><path class="t" d="M607 912.200H617"/>
<use href="#pl" x="607" y="839.300"/><use href="#pl" x="607" y="853.600"/><use href="#pl" x="607" y="869.400"/><use href="#pl" x="607" y="884.700"/><use href="#pl" x="607" y="912.200"/><use href="#pl" x="607" y="932.600"/><use href="#pl" x="607" y="959"/>
<rect x="664.500" y="898.500" width="28" height="27" class="a"/><path class="m" d="M687 903V921L670 912Z"/><rect x="714.900" y="898.500" width="28.100" height="27" class="a"/><path class="m" d="M737.500 903V921L720.500 912Z"/>
<rect class="k" x="880" y="927" width="26" height="12.700"/><rect class="k" x="880" y="968" width="26" height="12.600"/>
<rect class="k" x="369.800" y="708.600" width="26.200" height="11.400"/>
</g>

<g id="vga">
<path d="M552 1086.700Q559 1085 566 1086.700Q571.400 1087.500 571.400 1092V1128Q571.400 1132.500 566 1133Q559 1135 552 1133.700Q547 1133 547 1128V1092Q547 1087.500 552 1086.700Z" fill="#fff" stroke="#222" stroke-width="1.300"/>
<path d="M553 1097V1126M565.500 1097V1126M559 1093.500V1126" fill="none" stroke="#333" stroke-width="3" stroke-linecap="round" stroke-dasharray="0 7"/>
<path d="M553 1097V1126M565.500 1097V1126M559 1093.500V1126" fill="none" stroke="#fff" stroke-width="1.600" stroke-linecap="round" stroke-dasharray="0 7"/>
<circle cx="559" cy="1080" r="4" fill="#fff" stroke="#222" stroke-width="1.800"/><circle cx="559" cy="1140.800" r="4" fill="#fff" stroke="#222" stroke-width="1.800"/>
<rect x="597.500" y="1066.300" width="19.100" height="87.300" class="b"/>
<path class="l" d="M607 1082.600H617M607 1096.400H617M607 1110.700H617M607 1125.500H617M607 1139.300H617"/>
<use href="#pl" x="607" y="1082.600"/><use href="#pl" x="607" y="1096.400"/><use href="#pl" x="607" y="1110.700"/><use href="#pl" x="607" y="1125.500"/><use href="#pl" x="607" y="1139.300"/>
</g>

<g id="component">
<path class="t" d="M537 1214Q534 1214 534 1218V1257Q534 1261 531 1261.700Q534 1262.500 534 1266V1312Q534 1316 537 1316.300"/>
<circle cx="603.300" cy="1236.700" r="13.500" class="s"/><circle cx="603.300" cy="1236.700" r="9.500" fill="#ee7060" stroke="#333" stroke-width=".8"/>
<circle cx="603.300" cy="1266.300" r="13.500" class="s"/><circle cx="603.300" cy="1266.300" r="9.500" fill="#8fd080" stroke="#333" stroke-width=".8"/>
<circle cx="603.300" cy="1296.400" r="13.500" class="s"/><circle cx="603.300" cy="1296.400" r="9.500" fill="#6f94d9" stroke="#333" stroke-width=".8"/>
<path class="l" d="M607 1236.700H617M607 1266.300H617M607 1296.400H617"/><use href="#pl" x="607" y="1236.700"/><use href="#pl" x="607" y="1266.300"/><use href="#pl" x="607" y="1296.400"/>
</g>

<g id="hdmi-out-conn">
<rect x="2086.700" y="237.300" width="19.700" height="184" class="b"/><rect x="2086.700" y="465.400" width="19.700" height="236.600" class="b"/>
<path class="t" d="M2096.500 296V370M2096.500 539V612M2086.700 250.400H2098M2086.700 265.500H2098M2086.700 411H2098M2086.700 478.800H2098M2086.700 494.400H2098M2086.700 509.400H2098M2086.700 648.200H2098M2086.700 663.300H2098M2086.700 677.900H2098M2086.700 692.200H2098"/>
<path class="l" d="M2086.700 292.400H2098M2086.700 380H2098M2086.700 536.400H2098M2086.700 623.700H2098"/>
<use href="#pr" x="2098" y="250.400"/><use href="#pr" x="2098" y="265.500"/><use href="#pr" x="2098" y="292.400"/><use href="#pr" x="2098" y="380"/><use href="#pr" x="2098" y="411"/>
<use href="#pr" x="2098" y="478.800"/><use href="#pr" x="2098" y="494.400"/><use href="#pr" x="2098" y="509.400"/><use href="#pr" x="2098" y="536.400"/><use href="#pr" x="2098" y="623.700"/><use href="#pr" x="2098" y="648.200"/><use href="#pr" x="2098" y="663.300"/><use href="#pr" x="2098" y="677.900"/><use href="#pr" x="2098" y="692.200"/>
</g>

<g id="usb-block">
<rect x="1849.700" y="983.900" width="64.700" height="164.800" class="y"/>
<path d="M1810.500 1082.500H1821M1810.500 1095H1821" stroke="#222" stroke-width="2.400"/><rect x="1805.400" y="1085.700" width="21.800" height="6.800" class="c"/>
<rect x="2088" y="876.300" width="18.400" height="66.400" class="b"/><rect x="2088" y="998.400" width="18.400" height="65.900" class="b"/><rect x="2088" y="1083.700" width="19" height="84.800" class="b"/>
<path class="t" d="M2088 889.400H2098M2088 904.400H2098M2088 918.400H2098M2088 933H2098M2088 1011.500H2098M2088 1027.500H2098M2088 1040.600H2098M2088 1055H2098M2088 1098.300H2098M2088 1113.300H2098M2088 1127.400H2098M2088 1141.400H2098M2088 1156H2098"/>
<use href="#pr" x="2098" y="889.400"/><use href="#pr" x="2098" y="904.400"/><use href="#pr" x="2098" y="918.400"/><use href="#pr" x="2098" y="933"/><use href="#pr" x="2098" y="1011.500"/><use href="#pr" x="2098" y="1027.500"/><use href="#pr" x="2098" y="1040.600"/><use href="#pr" x="2098" y="1055"/>
<g transform="translate(2196 0) scale(-1 1)"><use href="#ps" x="99" y="1098.300"/><use href="#ps" x="99" y="1113.300"/><use href="#ps" x="99" y="1127.400"/><use href="#ps" x="99" y="1141.400"/><use href="#ps" x="99" y="1156"/></g>
<use href="#usb" x="2144.300" y="854"/><use href="#usb" x="2144.300" y="981.500"/>
</g>

<g id="hdcp"><rect x="1671.600" y="1013.400" width="65.400" height="129.900" class="y"/></g>
<g id="ambilight"><use href="#icb" x="1639" y="1291"/><use href="#icb" x="1754.500" y="1291"/><use href="#icb" x="1870.800" y="1291"/><use href="#icb" x="1985.700" y="1291"/></g>
</svg>
